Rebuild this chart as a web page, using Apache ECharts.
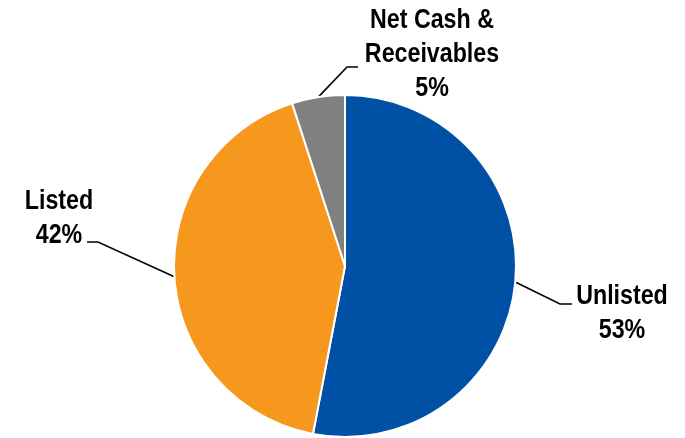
<!DOCTYPE html>
<html>
<head>
<meta charset="utf-8">
<script src="https://cdn.jsdelivr.net/npm/echarts@6/dist/echarts.min.js"></script>
<style>
  html, body { margin: 0; padding: 0; background: #fff; }
  #chart { width: 685px; height: 438px; }
</style>
</head>
<body>
<div id="chart"></div>
<script>
// Portfolio split by holding type (percent of total)
const categories = ['Unlisted', 'Listed', 'Net Cash &\nReceivables'];
const shares = [53, 42, 5];
const colors = ['#0050A5', '#F7981E', '#808080'];

// Label placement per slice: text centre, leader-line bend and end
const labelSpots = [
  { x: 622, y: 314, bend: [560, 304], end: [572, 304] },
  { x: 59, y: 219, bend: [98, 242], end: [87, 242] },
  { x: 432, y: 55, bend: [347, 67], end: [358, 67] }
];

// Horizontal squeeze giving the labels a condensed look
const LABEL_SQUEEZE = 0.86;

const chart = echarts.init(document.getElementById('chart'), null, { renderer: 'canvas' });

function condenseLabels() {
  const zr = chart.getZr();
  const texts = new Set();
  zr.storage.getDisplayList(true).forEach(el => {
    if (el.type === 'text') texts.add(el);
    if (el.type === 'tspan' && el.parent) texts.add(el.parent);
  });
  texts.forEach(t => {
    if (t.scaleX !== LABEL_SQUEEZE) {
      t.originX = 0;
      t.originY = 0;
      t.scaleX = LABEL_SQUEEZE;
      t.markRedraw();
    }
  });
  zr.refreshImmediately();
}

chart.on('finished', condenseLabels);

chart.setOption({
  animation: false,
  backgroundColor: '#ffffff',
  series: [{
    type: 'pie',
    center: [345, 266],
    radius: [0, 171],
    startAngle: 90,
    clockwise: true,
    data: categories.map((name, i) => ({
      name: name,
      value: shares[i],
      itemStyle: { color: colors[i] }
    })),
    itemStyle: { borderColor: '#ffffff', borderWidth: 2 },
    label: {
      show: true,
      formatter: p => p.name + '\n' + p.value + '%',
      fontFamily: '"Liberation Sans Narrow", "Arial Narrow", "Liberation Sans", Arial, sans-serif',
      fontWeight: 'bold',
      fontSize: 27,
      lineHeight: 34,
      color: '#000000',
      align: 'center'
    },
    labelLine: {
      show: true,
      lineStyle: { color: '#000000', width: 1.6 }
    },
    labelLayout: function (params) {
      const s = labelSpots[params.dataIndex];
      const start = params.labelLinePoints ? params.labelLinePoints[0] : s.bend;
      return {
        x: s.x,
        y: s.y,
        align: 'center',
        verticalAlign: 'middle',
        labelLinePoints: [start, s.bend, s.end]
      };
    }
  }]
});
</script>
</body>
</html>
